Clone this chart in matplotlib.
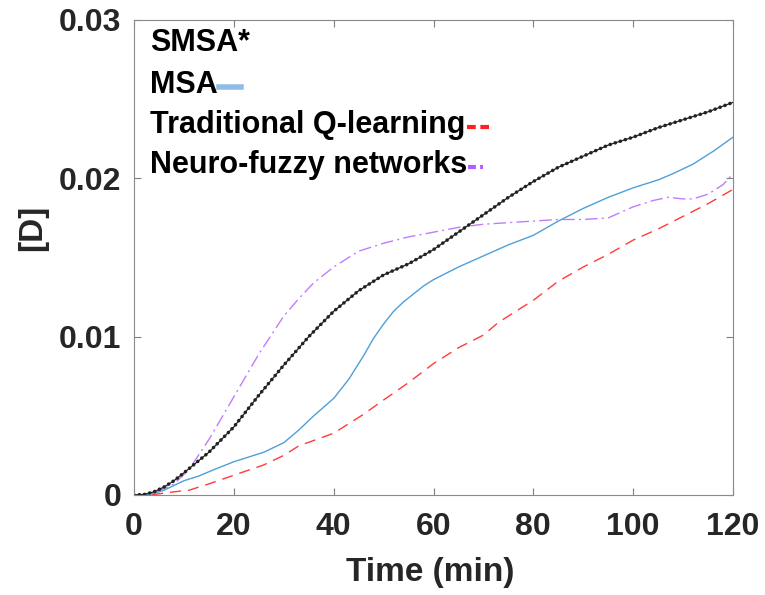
import numpy as np
import matplotlib
matplotlib.use('Agg')
import matplotlib.pyplot as plt
from matplotlib.lines import Line2D

plt.rcParams['font.family'] = ['Liberation Sans', 'DejaVu Sans']
plt.rcParams['font.weight'] = 'bold'

# SMSA* (black, dotted markers)
smsa_x = [0, 2, 4, 6, 8, 10, 15, 20, 25, 30, 35, 40, 45, 50, 55, 60, 65, 70, 75, 80, 85, 90, 95, 100, 105, 110, 115, 120]
smsa_y = [0, 0.00003, 0.0002, 0.0005, 0.0009, 0.0014, 0.0027, 0.0043, 0.0063, 0.0082, 0.0100, 0.0116, 0.0129, 0.0139,
          0.0146, 0.0155, 0.0166, 0.0177, 0.0188, 0.0198, 0.0207, 0.0214, 0.0221, 0.0226, 0.0232, 0.0237, 0.0242, 0.0248]

# MSA (blue)
msa_x = [0, 2, 4, 6, 8, 10, 13, 16, 20, 23, 26, 30, 33, 36, 40, 43, 46, 48, 50, 52, 54, 56, 58, 60, 65, 70, 75, 80,
         85, 90, 95, 100, 105, 108, 112, 116, 120]
msa_y = [0, 0.00002, 0.0001, 0.0003, 0.0006, 0.0009, 0.0012, 0.0016, 0.0021, 0.0024, 0.0027, 0.0033, 0.0041, 0.0050,
         0.0061, 0.0073, 0.0088, 0.0099, 0.0108, 0.0116, 0.0122, 0.0127, 0.0132, 0.0136, 0.0144, 0.0151, 0.0158,
         0.0164, 0.0173, 0.0181, 0.0188, 0.0194, 0.0199, 0.0203, 0.0209, 0.0217, 0.0226]

# Traditional Q-learning (red dashed)
ql_x = [0, 4, 8, 11, 15, 20, 26, 30, 33, 40, 46, 50, 55, 60, 65, 70, 73, 80, 85, 90, 95, 100, 105, 110, 115, 120]
ql_y = [0, 0.00003, 0.0002, 0.0003, 0.0007, 0.00125, 0.0019, 0.0025, 0.0031, 0.0039, 0.0051, 0.0060, 0.0071, 0.0083,
        0.0093, 0.0101, 0.0109, 0.0123, 0.0135, 0.0144, 0.0152, 0.0161, 0.0168, 0.0176, 0.0184, 0.0193]

# Neuro-fuzzy networks (purple dash-dot)
nf_x = [0, 4, 8, 11, 15, 20, 25, 30, 33, 36, 40, 45, 50, 55, 60, 65, 70, 75, 80, 85, 90, 95, 100, 104, 107, 110,
        112, 115, 118, 120]
nf_y = [0, 0.0001, 0.0007, 0.0016, 0.0035, 0.0062, 0.0089, 0.0113, 0.0124, 0.0134, 0.0144, 0.0154, 0.0159, 0.0163,
        0.0166, 0.0169, 0.0171, 0.0172, 0.0173, 0.0174, 0.0174, 0.0175, 0.0182, 0.0186, 0.0188, 0.0187, 0.0187,
        0.0190, 0.0196, 0.0203]

labels = ['SMSA*', 'MSA', 'Traditional Q-learning', 'Neuro-fuzzy networks']
xticks = [0, 20, 40, 60, 80, 100, 120]
yticks = [0, 0.01, 0.02, 0.03]
ytick_labels = ['0', '0.01', '0.02', '0.03']

blue = '#4f9fd8'
red = '#ff3b3b'
purple = '#c07cff'

fig = plt.figure(figsize=(7.65, 5.95), dpi=100)
ax = fig.add_axes([0.1752, 0.1681, 0.783, 0.7983])

ax.plot(nf_x, nf_y, color=purple, lw=1.0, linestyle=(0, (9, 3, 1.5, 3)))
ax.plot(ql_x, ql_y, color=red, lw=1.0, linestyle=(0, (8, 5)))
ax.plot(msa_x, msa_y, color=blue, lw=1.0)
ax.plot(smsa_x, smsa_y, color='#222222', lw=0.9)
ax.plot(smsa_x, smsa_y, color='#222222', lw=2.6, linestyle=(0, (0.01, 1.45)), dash_capstyle='round')

ax.set_xlim(0, 120)
ax.set_ylim(0, 0.03)
ax.set_xticks(xticks)
ax.set_yticks(yticks)
ax.set_yticklabels(ytick_labels)
ax.tick_params(direction='in', top=True, right=True, labelsize=23, colors='#7f7f7f',
               labelcolor='#262626', length=5)
ax.tick_params(axis='x', pad=12)
ax.tick_params(axis='y', pad=9)
for s in ax.spines.values():
    s.set_color('#8a8a8a')

ax.set_xlabel('Time (min)', fontsize=24, fontweight='bold', color='#262626')
ax.set_ylabel('[D]', fontsize=24, fontweight='bold', color='#262626')
ax.xaxis.set_label_coords(0.494, -0.13)
ax.yaxis.set_label_coords(-0.143, 0.562)

# legend: text first, then a short line sample right after the text
handle_styles = [None,
                 dict(color='#8fbde6', lw=4, linestyle='-'),
                 dict(color='#ff2020', lw=3, linestyle=(0, (2.1, 1.1))),
                 dict(color='#b060ff', lw=3, linestyle=(0, (1.9, 1.0, 0.7, 1.0)))]
handle_len = [0, 22, 22, 16]
row_y = [0.952, 0.864, 0.779, 0.695]
fig.canvas.draw()
renderer = fig.canvas.get_renderer()
for lab, st, hl, yy in zip(labels, handle_styles, handle_len, row_y):
    t = ax.text(0.027, yy, lab, transform=ax.transAxes, fontsize=22, fontweight='bold',
                color='black', ha='left', va='center')
    if st is None:
        continue
    bb = t.get_window_extent(renderer=renderer)
    x0 = bb.x1 + 1
    ypix = (bb.y0 + bb.y1) / 2 - 2
    p0 = ax.transAxes.inverted().transform((x0, ypix))
    p1 = ax.transAxes.inverted().transform((x0 + hl, ypix))
    ax.add_line(Line2D([p0[0], p1[0]], [p0[1], p1[1]], transform=ax.transAxes, clip_on=False, **st))

fig.savefig('out.png', dpi=100)
